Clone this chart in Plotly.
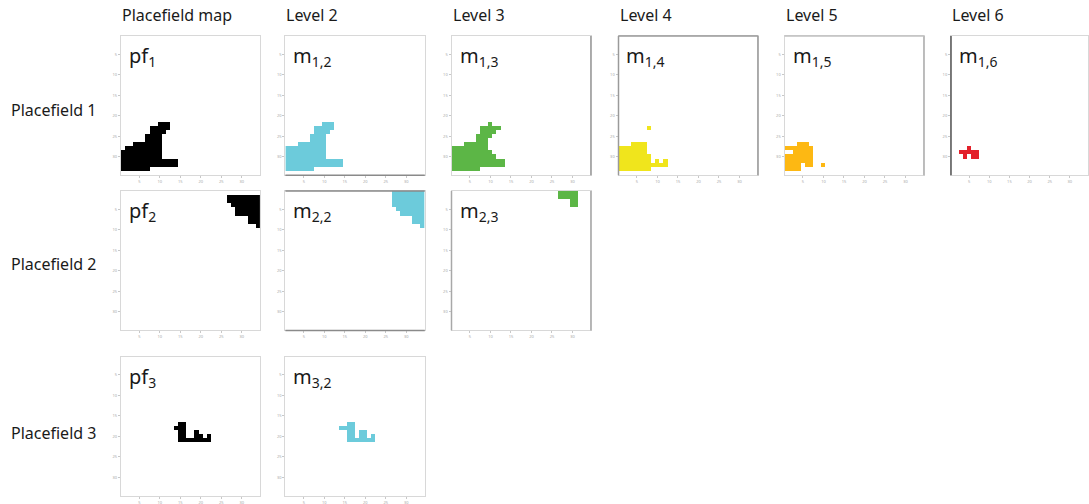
import plotly.graph_objects as go

N = 34  # grid cells per side of each map

# ---- masks as runs: (row, first_col, last_col), 0-based, row 0 at top ----
PF1 = [(21, 9, 11), (22, 7, 11), (23, 7, 10), (24, 6, 9), (25, 6, 9), (26, 3, 9),
       (27, 1, 9), (28, 0, 9), (29, 0, 9), (30, 0, 13), (31, 0, 13), (32, 0, 6)]
M12 = [(21, 9, 11), (22, 7, 11), (23, 7, 10), (24, 6, 9), (25, 6, 9), (26, 3, 9),
       (27, 0, 9), (28, 0, 9), (29, 0, 9), (30, 0, 13), (31, 0, 13), (32, 0, 6)]
M13 = [(21, 9, 9), (22, 7, 11), (23, 7, 10), (24, 6, 9), (25, 6, 8), (26, 3, 8),
       (27, 0, 8), (28, 0, 9), (29, 0, 10), (30, 0, 12), (31, 0, 12), (32, 0, 6)]
M14 = [(22, 7, 7), (26, 3, 6), (27, 0, 6), (28, 0, 6), (29, 0, 7),
       (30, 0, 7), (30, 9, 9), (30, 11, 11), (31, 0, 11), (32, 0, 7)]
M15 = [(26, 3, 5), (27, 0, 6), (28, 2, 6), (29, 0, 6), (30, 0, 6),
       (31, 0, 3), (31, 5, 6), (31, 9, 9), (32, 0, 3)]
M16 = [(27, 4, 4), (28, 2, 6), (29, 3, 3), (29, 5, 6)]
PF2 = [(1, 26, 33), (2, 26, 33), (3, 27, 33), (4, 28, 33), (5, 28, 33),
       (6, 31, 33), (7, 31, 33), (8, 33, 33)]
M22 = [(0, 26, 33), (1, 26, 33), (2, 26, 33), (3, 26, 33), (4, 27, 33),
       (5, 28, 33), (6, 31, 33), (7, 31, 33), (8, 33, 33)]
M23 = [(0, 26, 30), (1, 26, 30), (2, 29, 30), (3, 29, 30)]
PF3 = [(16, 14, 15), (17, 13, 15), (18, 14, 15), (18, 18, 18),
       (19, 14, 15), (19, 18, 19), (19, 21, 21), (20, 14, 21)]
M32 = [(16, 15, 16), (17, 13, 16), (18, 15, 16), (18, 18, 19),
       (19, 15, 16), (19, 18, 19), (19, 21, 21), (20, 15, 21)]

COL_TITLES = ["Placefield map", "Level 2", "Level 3", "Level 4", "Level 5", "Level 6"]
ROW_TITLES = ["Placefield 1", "Placefield 2", "Placefield 3"]
TICKS = [5, 10, 15, 20, 25, 30]

# (row, col, mask, colour, label, darker frame edges)
PANELS = [
    (0, 0, PF1, "#000000", "pf<sub>1</sub>", {}),
    (0, 1, M12, "#6ccbdb", "m<sub>1,2</sub>", {"bottom": "#8a8a8a"}),
    (0, 2, M13, "#5cb646", "m<sub>1,3</sub>", {"right": "#9a9a9a"}),
    (0, 3, M14, "#f0e51c", "m<sub>1,4</sub>",
     {"top": "#9a9a9a", "left": "#9a9a9a", "right": "#9a9a9a"}),
    (0, 4, M15, "#fdb813", "m<sub>1,5</sub>", {"right": "#b0b0b0", "top": "#c0c0c0"}),
    (0, 5, M16, "#e3202a", "m<sub>1,6</sub>", {"left": "#555555"}),
    (1, 0, PF2, "#000000", "pf<sub>2</sub>", {}),
    (1, 1, M22, "#6ccbdb", "m<sub>2,2</sub>", {"top": "#8a8a8a", "bottom": "#8a8a8a"}),
    (1, 2, M23, "#5cb646", "m<sub>2,3</sub>", {"left": "#a8a8a8", "right": "#a8a8a8"}),
    (2, 0, PF3, "#000000", "pf<sub>3</sub>", {}),
    (2, 1, M32, "#6ccbdb", "m<sub>3,2</sub>", {}),
]

W, H = 1089, 504
COL_LEFT = [120.9, 285.4, 451.5, 618.5, 784.5, 951.0]
ROW_TOP = [35.9, 191.0, 356.5]
SIZE = 139.4
FONT = "Noto Sans"
EDGES = {"top": (0, 1, 1, 1), "bottom": (0, 0, 1, 0),
         "left": (0, 0, 0, 1), "right": (1, 0, 1, 1)}


def mask_to_z(runs):
    z = [[None] * N for _ in range(N)]
    for r, c0, c1 in runs:
        for c in range(c0, c1 + 1):
            z[r][c] = 1
    return z


fig = go.Figure()
annotations = []
shapes = []
for i, (r, c, runs, colour, label, edges) in enumerate(PANELS):
    k = "" if i == 0 else str(i + 1)
    x0 = COL_LEFT[c] / W
    x1 = min((COL_LEFT[c] + SIZE) / W, 0.999)
    y1 = 1 - ROW_TOP[r] / H
    y0 = 1 - (ROW_TOP[r] + SIZE) / H
    fig.add_trace(go.Heatmap(
        z=mask_to_z(runs), x=list(range(1, N + 1)), y=list(range(1, N + 1)),
        colorscale=[[0, colour], [1, colour]], zmin=0, zmax=1, showscale=False,
        hoverinfo="skip", xaxis="x" + k, yaxis="y" + k))
    axis_common = dict(showgrid=False, zeroline=False, showline=True, mirror=True,
                       linecolor="#d8d8d8", linewidth=1, ticks="outside", ticklen=2,
                       tickcolor="#c8c8c8", tickvals=TICKS,
                       tickfont=dict(size=4, color="#a8a8a8", family=FONT))
    fig.update_layout(**{
        "xaxis" + k: dict(domain=[x0, x1], range=[0.5, N + 0.5], anchor="y" + k,
                          **axis_common),
        "yaxis" + k: dict(domain=[y0, y1], range=[N + 0.5, 0.5], anchor="x" + k,
                          **axis_common),
    })
    for side, col in edges.items():
        ex0, ey0, ex1, ey1 = EDGES[side]
        shapes.append(dict(type="line", xref="x" + k + " domain",
                           yref="y" + k + " domain", x0=ex0, y0=ey0, x1=ex1, y1=ey1,
                           line=dict(color=col, width=1.5)))
    annotations.append(dict(
        x=x0 + 6 / W, y=y1 - 21 / H, xref="paper", yref="paper", xanchor="left",
        yanchor="middle", showarrow=False, text=label,
        font=dict(family=FONT, size=20, color="#1a1a1a")))

for c, t in enumerate(COL_TITLES):
    annotations.append(dict(
        x=(COL_LEFT[c] - 1) / W, y=1 - 15 / H, xref="paper", yref="paper",
        xanchor="left", yanchor="middle", showarrow=False, text=t,
        font=dict(family=FONT, size=16, color="#1a1a1a")))

for r, t in enumerate(ROW_TITLES):
    yc = [110, 264, 433][r]
    annotations.append(dict(
        x=9 / W, y=1 - yc / H, xref="paper", yref="paper",
        xanchor="left", yanchor="middle", showarrow=False, text=t,
        font=dict(family=FONT, size=16, color="#1a1a1a")))

fig.update_layout(
    width=W, height=H, margin=dict(l=0, r=0, t=0, b=0),
    paper_bgcolor="white", plot_bgcolor="white",
    showlegend=False, annotations=annotations, shapes=shapes)

fig.write_html("out.html", config={"displayModeBar": False},
               post_script="document.body.style.margin='0';"
                           "document.body.style.overflow='hidden';")
